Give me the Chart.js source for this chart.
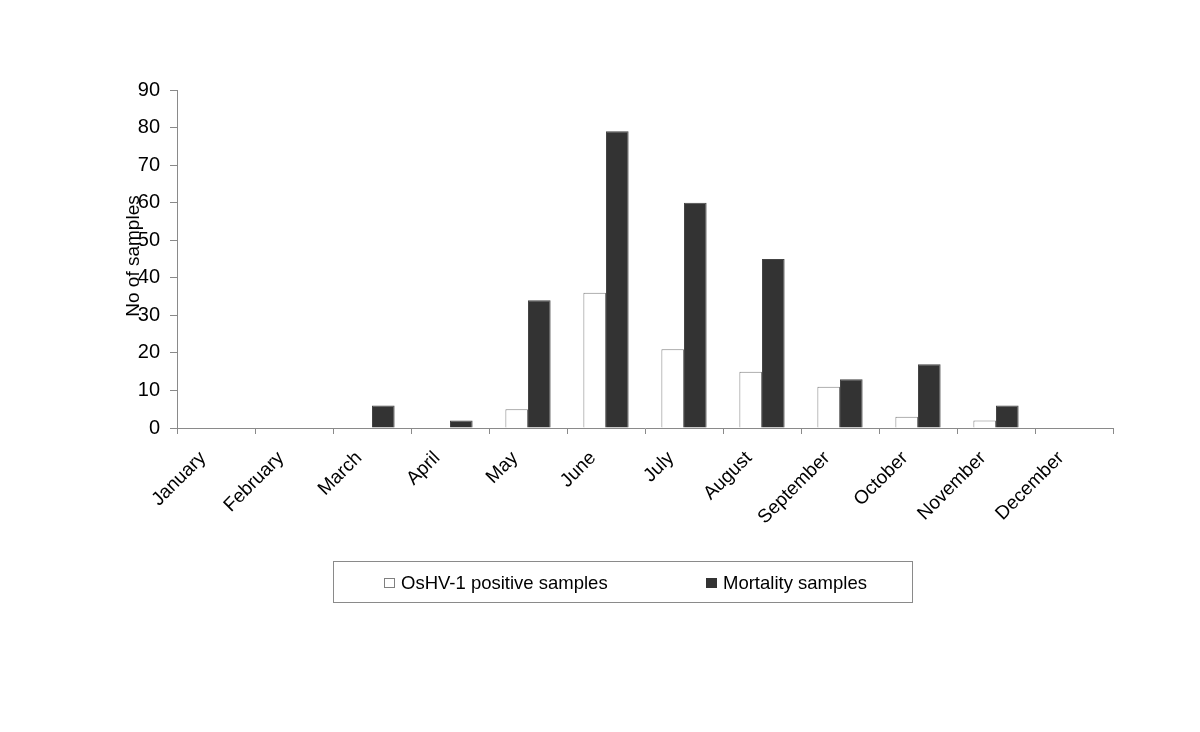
<!DOCTYPE html>
<html>
<head>
<meta charset="utf-8">
<script src="https://cdn.jsdelivr.net/npm/chart.js@4.4.1/dist/chart.umd.min.js"></script>
<style>
  html, body { margin: 0; padding: 0; background: #fff; }
  #wrap { position: relative; width: 1200px; height: 732px; }
  #legend { position: absolute; left: 333px; top: 561px; width: 580px; height: 42px;
    border: 1px solid #8a8a8a; box-sizing: border-box; font-family: "Liberation Sans", Arial, sans-serif;
    font-size: 18.5px; color: #000; }
  .item { position: absolute; top: 10px; display: flex; align-items: center; }
  .sw { width: 11px; height: 10px; margin-right: 6px; box-sizing: border-box; }
</style>
</head>
<body>
<div id="wrap">
  <canvas id="c" width="1200" height="732"></canvas>
  <div id="legend"></div>
</div>
<script>
const months = ["January","February","March","April","May","June","July","August","September","October","November","December"];
const oshvPositive = [0, 0, 0, 0, 5, 36, 21, 15, 11, 3, 2, 0];
const mortality = [0, 0, 6, 2, 34, 79, 60, 45, 13, 17, 6, 0];
const seriesNames = ["OsHV-1 positive samples", "Mortality samples"];
const yTitle = "No of samples";

const FONT = '"Liberation Sans", Arial, sans-serif';
const AXIS = '#8a8a8a';

const yTitlePlugin = {
  id: 'yTitle',
  afterDraw(chart) {
    const ctx = chart.ctx, a = chart.chartArea;
    ctx.save();
    ctx.translate(a.left - 43, (a.top + a.bottom) / 2 - 3);
    ctx.rotate(-Math.PI / 2);
    ctx.font = '19px ' + FONT;
    ctx.fillStyle = '#000';
    ctx.textAlign = 'center';
    ctx.textBaseline = 'middle';
    ctx.fillText(yTitle, 0, 0);
    ctx.restore();
  }
};

new Chart(document.getElementById('c'), {
  type: 'bar',
  data: {
    labels: months,
    datasets: [
      { label: seriesNames[0], data: oshvPositive, backgroundColor: '#ffffff', borderColor: '#808080', borderWidth: 1,
        categoryPercentage: 0.58, barPercentage: 1.0 },
      { label: seriesNames[1], data: mortality, backgroundColor: '#333333', borderColor: '#444444', borderWidth: 1,
        categoryPercentage: 0.58, barPercentage: 1.0 }
    ]
  },
  options: {
    responsive: false,
    animation: false,
    devicePixelRatio: 1,
    layout: { padding: { left: 0, top: 90, right: 87, bottom: 0 } },
    plugins: { legend: { display: false }, tooltip: { enabled: false }, title: { display: false } },
    scales: {
      x: {
        grid: { drawOnChartArea: false, tickLength: 6, color: AXIS, offset: true },
        border: { color: AXIS, width: 1 },
        ticks: { maxRotation: 45, minRotation: 45, font: { family: FONT, size: 19 }, color: '#000', padding: 13, labelOffset: -13 },
        afterFit(s) { s.height = 304; }
      },
      y: {
        min: 0, max: 90,
        grid: { drawOnChartArea: false, tickLength: 7, color: AXIS },
        border: { color: AXIS, width: 1 },
        ticks: { stepSize: 10, font: { family: FONT, size: 20 }, color: '#000', padding: 10 },
        afterFit(s) { s.width = 177; }
      }
    }
  },
  plugins: [yTitlePlugin]
});

// legend
const lg = document.getElementById('legend');
const items = [
  { name: seriesNames[0], fill: '#ffffff', border: '#808080', left: 50 },
  { name: seriesNames[1], fill: '#333333', border: '#333333', left: 372 }
];
items.forEach(it => {
  const d = document.createElement('div');
  d.className = 'item';
  d.style.left = it.left + 'px';
  const sw = document.createElement('div');
  sw.className = 'sw';
  sw.style.background = it.fill;
  sw.style.border = '1px solid ' + it.border;
  const t = document.createElement('span');
  t.textContent = it.name;
  d.appendChild(sw); d.appendChild(t);
  lg.appendChild(d);
});
</script>
</body>
</html>
